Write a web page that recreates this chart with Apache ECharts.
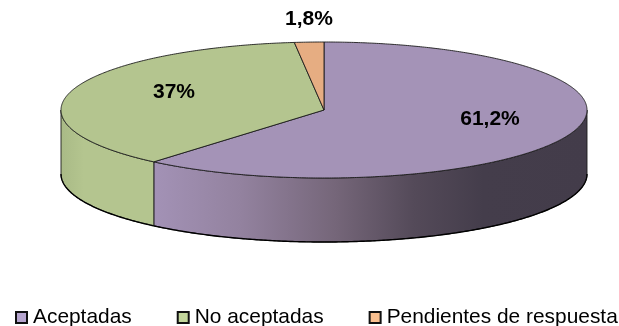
<!DOCTYPE html>
<html>
<head>
<meta charset="utf-8">
<style>html,body{margin:0;padding:0;background:#fff}#chart{width:619px;height:326px}</style>
<script src="https://cdn.jsdelivr.net/npm/echarts@6/dist/echarts.min.js"></script>
</head>
<body>
<div id="chart"></div>
<script>
// Survey outcome shares, in percent
const categories = ['Aceptadas', 'No aceptadas', 'Pendientes de respuesta'];
const shares = [61.2, 37, 1.8];
const shareLabels = ['61,2%', '37%', '1,8%'];

const topColors = ['#a493b7', '#b4c58f', '#e6ad82'];
const legendColors = ['#b6a5cf', '#c3d69b', '#fac090'];
const labelCenters = [[490, 119], [174, 92], [309, 19]];

// Ellipse of the pie's top face and extrusion depth of the rim
const CX = 324, CY = 110, RX = 263, RY = 68, DEPTH = 64;
const EDGE = '#1c1c1c';

// Angles run clockwise from twelve o'clock, in degrees
function rimPoint(deg, dy) {
  const a = deg * Math.PI / 180;
  return [CX + RX * Math.sin(a), CY - RY * Math.cos(a) + dy];
}
function arc(from, to, dy) {
  const pts = [];
  const n = Math.max(2, Math.ceil(Math.abs(to - from) * 2));
  for (let i = 0; i <= n; i++) pts.push(rimPoint(from + (to - from) * i / n, dy));
  return pts;
}

const total = shares.reduce((s, v) => s + v, 0);
function sliceRange(index) {
  let acc = 0;
  for (let i = 0; i < index; i++) acc += shares[i];
  return [acc / total * 360, (acc + shares[index]) / total * 360];
}

const sideFills = [
  new echarts.graphic.LinearGradient(0, 0, 1, 0, [
    { offset: 0, color: '#a392b6' },
    { offset: 0.2, color: '#93829f' },
    { offset: 0.42, color: '#756679' },
    { offset: 0.6, color: '#544a59' },
    { offset: 0.76, color: '#443d4b' },
    { offset: 1, color: '#433c4a' }
  ]),
  new echarts.graphic.LinearGradient(0, 0, 1, 0, [
    { offset: 0, color: '#a9ba86' },
    { offset: 0.25, color: '#b4c58f' },
    { offset: 1, color: '#b4c58f' }
  ])
];

function renderSlice(params, api) {
  const i = params.seriesIndex;
  const [start, end] = sliceRange(i);
  const value = api.value(0);
  const children = [];

  // Only the front half of the rim (90° to 270°) is visible
  const sideFrom = Math.max(start, 90), sideTo = Math.min(end, 270);
  if (sideTo > sideFrom && value > 0) {
    const bottom = arc(sideTo, sideFrom, DEPTH);
    children.push({
      type: 'polygon',
      z2: 1,
      shape: { points: arc(sideFrom, sideTo, 0).concat(bottom) },
      style: { fill: sideFills[i], stroke: EDGE, lineWidth: 0.9 }
    });
    // The lower rim reads heavier than the inner edges
    children.push({
      type: 'polyline',
      z2: 1,
      shape: { points: bottom },
      style: { fill: null, stroke: '#000', lineWidth: 1.4 }
    });
  }

  const face = [[CX, CY]].concat(arc(start, end, 0));
  children.push({
    type: 'polygon',
    z2: 2,
    shape: { points: face },
    style: { fill: topColors[i], stroke: EDGE, lineWidth: 0.9, lineJoin: 'round' }
  });

  children.push({
    type: 'text',
    z2: 3,
    style: {
      x: labelCenters[i][0],
      y: labelCenters[i][1],
      text: shareLabels[i],
      fill: '#000',
      font: 'bold 21px "Liberation Sans", Arial, sans-serif',
      align: 'center',
      verticalAlign: 'middle'
    }
  });
  return { type: 'group', children };
}

const chart = echarts.init(document.getElementById('chart'), null, { renderer: 'canvas' });
chart.setOption({
  animation: false,
  backgroundColor: '#fff',
  legend: {
    left: 15,
    top: 307,
    padding: 0,
    itemGap: 45,
    itemWidth: 11,
    itemHeight: 11,
    selectedMode: false,
    textStyle: {
      color: '#000',
      fontSize: 20.9,
      fontFamily: '"Liberation Sans", Arial, sans-serif',
      padding: [0, 0, 0, 1]
    },
    data: categories.map((name, i) => ({
      name,
      icon: 'rect',
      itemStyle: { color: legendColors[i], borderColor: '#111', borderWidth: 2 }
    }))
  },
  series: categories.map((name, i) => ({
    type: 'custom',
    name,
    coordinateSystem: 'none',
    silent: true,
    clip: false,
    z: i === 2 ? 3 : 2,
    renderItem: renderSlice,
    data: [[shares[i]]]
  }))
});
</script>
</body>
</html>
